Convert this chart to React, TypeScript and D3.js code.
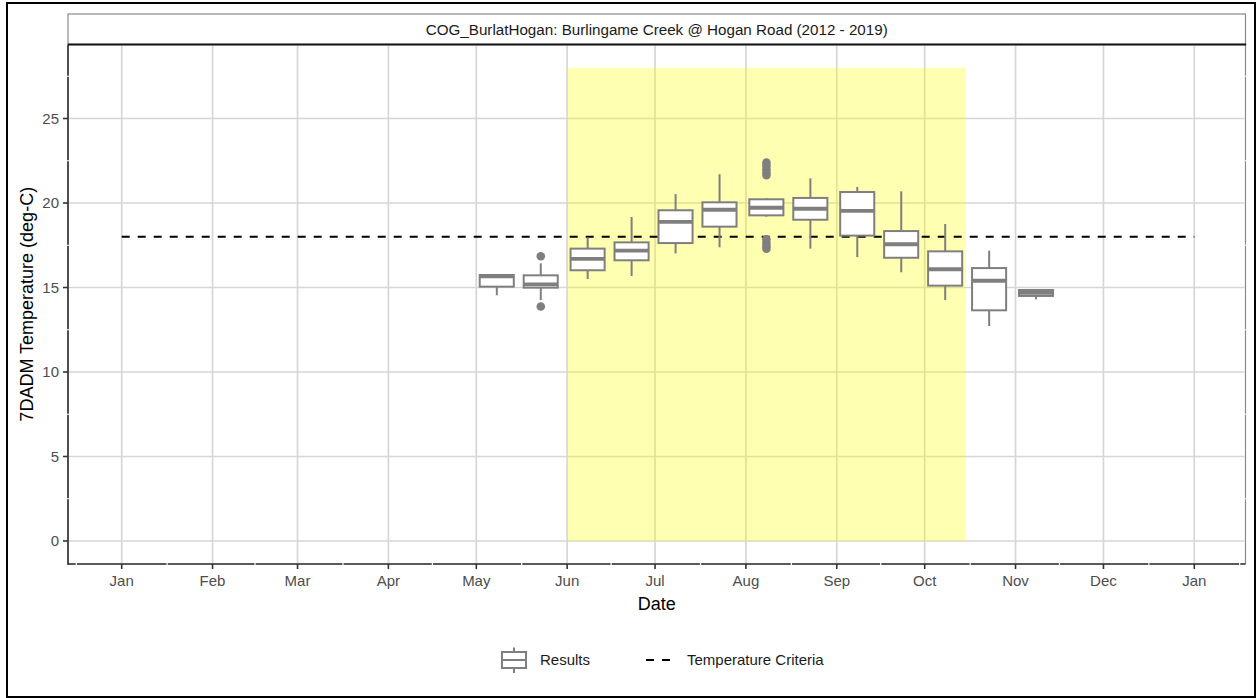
import React from 'react';
import * as d3 from 'd3';

// half-month groups, values in deg-C
const boxDates = ['2020-05-08', '2020-05-23', '2020-06-08', '2020-06-23', '2020-07-08', '2020-07-23',
    '2020-08-08', '2020-08-23', '2020-09-08', '2020-09-23', '2020-10-08', '2020-10-23', '2020-11-08'];
const whiskerLow = [14.54, 14.26, 15.50, 15.68, 17.02, 17.38, 19.19, 17.30, 16.80, 15.90, 14.26, 12.72, 14.30];
const lowerHinge = [15.05, 14.99, 16.02, 16.61, 17.63, 18.60, 19.27, 19.01, 18.07, 16.76, 15.11, 13.65, 14.50];
const medians = [15.66, 15.18, 16.69, 17.18, 18.88, 19.60, 19.72, 19.66, 19.53, 17.56, 16.08, 15.40, 14.68];
const upperHinge = [15.74, 15.72, 17.30, 17.67, 19.57, 20.04, 20.22, 20.30, 20.65, 18.34, 17.14, 16.15, 14.85];
const whiskerHigh = [15.76, 16.43, 17.95, 19.17, 20.53, 21.70, 20.28, 21.46, 20.95, 20.69, 18.76, 17.18, 14.85];
const outliers = [[], [16.85, 13.88], [], [], [], [],
    [22.4, 22.2, 22.0, 21.8, 21.65, 17.85, 17.65, 17.45, 17.3], [], [], [], [], [], []];

const yTicks = [0, 5, 10, 15, 20, 25];
const criteria = 18;
const criteriaStart = '2020-01-01';
const criteriaEnd = '2021-01-01';
const seasonStart = '2020-06-01';
const seasonEnd = '2020-10-15';
const seasonTop = 28;
const stripTitle = 'COG_BurlatHogan: Burlingame Creek @ Hogan Road (2012 - 2019)';

const parse = d3.timeParse('%Y-%m-%d');

export default function App() {
    const W = 1257, H = 698;
    const panel = { left: 68, right: 1245.5, top: 44.5, bottom: 564 };
    const stripTop = 14;

    const x = d3.scaleTime()
        .domain([parse('2020-01-01') as Date, parse('2021-01-01') as Date])
        .range([121.7, 1194.3]);
    const y = d3.scaleLinear().domain([0, 25]).range([541, 118.5]);

    const monthTicks = x.ticks(d3.timeMonth.every(1) as any);
    const fmt = d3.timeFormat('%b');

    // minor positions (white lines that nick the axis lines)
    const ext = d3.timeMonth.range(new Date(2019, 11, 1), new Date(2021, 2, 1));
    const minorX: number[] = [];
    for (let i = 0; i < ext.length - 1; i++) {
        const m = (x(ext[i]) + x(ext[i + 1])) / 2;
        if (m > panel.left - 1 && m < panel.right + 1) minorX.push(m);
    }
    const minorY = d3.range(-2.5, 32, 5).map(v => y(v)).filter(v => v > panel.top && v < panel.bottom);

    const halfDays = 5.8;
    const boxGrey = '#7f7f7f';
    const font = '"Liberation Sans", Arial, sans-serif';
    const cx = (panel.left + panel.right) / 2;

    return (
        <svg width={W} height={H} style={{ position: 'absolute', left: 0, top: 0, display: 'block', background: '#fff' }}
            fontFamily={font}>
            <rect x={0} y={0} width={W} height={H} fill="#fff" />
            <rect x={7} y={3} width={1248} height={694} fill="none" stroke="#000" strokeWidth={2} />

            {/* panel border + axis lines */}
            <line x1={panel.right} x2={panel.right} y1={panel.top} y2={panel.bottom} stroke="#8a8a8a" strokeWidth={1.2} />
            <line x1={panel.left} x2={panel.left} y1={panel.top} y2={panel.bottom + 0.8} stroke="#222" strokeWidth={1.6} />
            <line x1={panel.left} x2={panel.right} y1={panel.bottom} y2={panel.bottom} stroke="#222" strokeWidth={1.6} />

            {minorX.map((m, i) => (
                <line key={'mx' + i} x1={m} x2={m} y1={panel.top + 1} y2={panel.bottom + 1} stroke="#fff" strokeWidth={1.2} />
            ))}
            {minorY.map((m, i) => (
                <line key={'my' + i} x1={panel.left - 1} x2={panel.right + 1} y1={m} y2={m} stroke="#fff" strokeWidth={1.2} />
            ))}

            {/* major grid */}
            {monthTicks.map((d, i) => (
                <line key={'gx' + i} x1={x(d)} x2={x(d)} y1={panel.top + 1} y2={panel.bottom - 1} stroke="#d6d6d6" strokeWidth={1.7} />
            ))}
            {yTicks.map((v, i) => (
                <line key={'gy' + i} x1={panel.left + 1} x2={panel.right - 1} y1={y(v)} y2={y(v)} stroke="#d6d6d6" strokeWidth={1.7} />
            ))}

            {/* criteria season */}
            <rect x={x(parse(seasonStart) as Date)} y={y(seasonTop)}
                width={x(parse(seasonEnd) as Date) - x(parse(seasonStart) as Date)}
                height={y(0) - y(seasonTop)} fill="#ffff00" fillOpacity={0.3} />

            <line x1={x(parse(criteriaStart) as Date)} x2={x(parse(criteriaEnd) as Date)} y1={y(criteria)} y2={y(criteria)}
                stroke="#000" strokeWidth={2} strokeDasharray="8 8" />

            {/* boxplots */}
            {boxDates.map((ds, i) => {
                const d = parse(ds) as Date;
                const xc = x(d);
                const x0 = x(d3.timeHour.offset(d, -halfDays * 24));
                const x1 = x(d3.timeHour.offset(d, halfDays * 24));
                return (
                    <g key={'b' + i}>
                        <line x1={xc} x2={xc} y1={y(upperHinge[i])} y2={y(whiskerHigh[i])} stroke={boxGrey} strokeWidth={2} />
                        <line x1={xc} x2={xc} y1={y(lowerHinge[i])} y2={y(whiskerLow[i])} stroke={boxGrey} strokeWidth={2} />
                        <rect x={x0} y={y(upperHinge[i])} width={x1 - x0} height={y(lowerHinge[i]) - y(upperHinge[i])}
                            fill="#fff" stroke={boxGrey} strokeWidth={2} />
                        <line x1={x0} x2={x1} y1={y(medians[i])} y2={y(medians[i])} stroke={boxGrey} strokeWidth={3.8} />
                        {outliers[i].map((o, j) => (
                            <circle key={j} cx={xc} cy={y(o)} r={4.3} fill={boxGrey} />
                        ))}
                    </g>
                );
            })}

            {/* axes */}
            {yTicks.map((v, i) => (
                <g key={'ty' + i}>
                    <line x1={panel.left - 5} x2={panel.left} y1={y(v)} y2={y(v)} stroke="#333" strokeWidth={1.6} />
                    <text x={panel.left - 9} y={y(v)} dy="0.35em" textAnchor="end" fontSize={15} fill="#4d4d4d">{v}</text>
                </g>
            ))}
            {monthTicks.map((d, i) => (
                <g key={'tx' + i}>
                    <line x1={x(d)} x2={x(d)} y1={panel.bottom} y2={panel.bottom + 5} stroke="#333" strokeWidth={1.6} />
                    <text x={x(d)} y={586} textAnchor="middle" fontSize={15} fill="#4d4d4d">{fmt(d)}</text>
                </g>
            ))}
            <text x={cx} y={610} textAnchor="middle" fontSize={18} fill="#000">Date</text>
            <text transform={`translate(27,${(panel.top + panel.bottom) / 2}) rotate(-90)`} textAnchor="middle"
                dy="0.35em" fontSize={18} fill="#000">7DADM Temperature (deg-C)</text>

            {/* strip */}
            <rect x={panel.left} y={stripTop} width={panel.right - panel.left} height={panel.top - stripTop}
                fill="#fff" stroke="#8a8a8a" strokeWidth={1.2} />
            <line x1={panel.left} x2={panel.right + 0.6} y1={panel.top} y2={panel.top} stroke="#111" strokeWidth={2} />
            <text x={cx} y={34.5} textAnchor="middle" fontSize={15.2} fill="#1a1a1a">{stripTitle}</text>

            {/* legend */}
            <g>
                <line x1={514} x2={514} y1={647.5} y2={673} stroke={boxGrey} strokeWidth={2} />
                <rect x={502} y={652} width={24} height={16} fill="#fff" stroke={boxGrey} strokeWidth={2} />
                <line x1={502} x2={526} y1={660} y2={660} stroke={boxGrey} strokeWidth={2} />
                <text x={540} y={660} dy="0.35em" fontSize={15} fill="#1a1a1a">Results</text>
                <line x1={646} x2={671} y1={660} y2={660} stroke="#000" strokeWidth={2} strokeDasharray="8 8" />
                <text x={687} y={660} dy="0.35em" fontSize={15} fill="#1a1a1a">Temperature Criteria</text>
            </g>
        </svg>
    );
}
